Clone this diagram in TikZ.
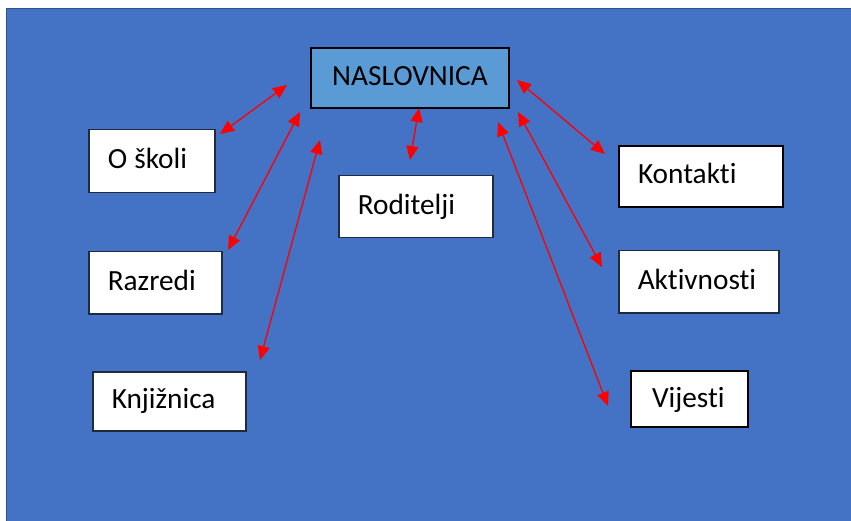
\documentclass[tikz,border=0pt]{standalone}
\usepackage{fontspec}
\setmainfont[Ligatures=NoCommon]{Carlito}
\usetikzlibrary{arrows.meta}
\definecolor{bgblue}{HTML}{4472C4}
\definecolor{bgborder}{HTML}{2F528F}
\definecolor{mainfill}{HTML}{5B9BD5}
\definecolor{boxline}{HTML}{1F2A3A}
\tikzset{
  pagebox/.style={x=1pt,y=-1pt},
  itembox/.style={draw=boxline, line width=1.5pt, fill=white, anchor=north west,
    inner xsep=19pt, inner ysep=0pt, align=left, text height=18pt, text depth=3pt,
    font=\fontsize{29.3}{34}\selectfont},
  strongbox/.style={itembox, draw=black, line width=2pt},
  linkarrow/.style={draw=red, line width=1.3pt, {Triangle[length=14pt,width=12pt]}-{Triangle[length=14pt,width=12pt]}}
}
\begin{document}
\begin{tikzpicture}[pagebox]
\useasboundingbox (0,0) rectangle (851,521);
\fill[white] (0,0) rectangle (851,521);
\filldraw[fill=bgblue, draw=bgborder, line width=1.5pt] (6.5,8.5) rectangle (860,530);

\node[strongbox, fill=mainfill, align=center, inner xsep=0pt, minimum width=198pt, minimum height=60pt, text height=19pt, text depth=3pt] (nas) at (310,47) {NASLOVNICA};

\node[itembox, minimum width=126pt, minimum height=63pt, text width=88pt] (skola) at (88,129) {O\kern-2.5pt{} školi};
\node[itembox, minimum width=133pt, minimum height=62pt, text width=95pt] (razredi) at (88,251) {Razredi};
\node[itembox, minimum width=153pt, minimum height=59pt, text width=115pt] (knjiznica) at (92,371) {Knjižnica};
\node[itembox, minimum width=154pt, minimum height=62pt, text width=116pt] (roditelji) at (338,175) {Roditelji};
\node[strongbox, minimum width=164pt, minimum height=61pt, text width=126pt] (kontakti) at (618,145) {Kontakti};
\node[itembox, minimum width=160pt, minimum height=62pt, text width=122pt] (aktivnosti) at (618,250) {Aktivnosti};
\node[strongbox, minimum width=117pt, minimum height=56pt, inner xsep=21pt, text width=75pt, text height=20pt] (vijesti) at (630,370) {Vijesti};

\coordinate (a1c) at (220,134); \coordinate (a1n) at (287,85);
\coordinate (a2c) at (228,250); \coordinate (a2n) at (300,112);
\coordinate (a3c) at (260,360); \coordinate (a3n) at (320,140);
\coordinate (a4c) at (410,160); \coordinate (a4n) at (419,108);
\coordinate (a5c) at (605,154); \coordinate (a5n) at (517,80);
\coordinate (a6c) at (602,267); \coordinate (a6n) at (518,112);
\coordinate (a7c) at (608,406); \coordinate (a7n) at (498,122);

\draw[linkarrow] (a1c) -- (a1n);
\draw[linkarrow] (a2c) -- (a2n);
\draw[linkarrow] (a3c) -- (a3n);
\draw[linkarrow] (a4c) -- (a4n);
\draw[linkarrow] (a5c) -- (a5n);
\draw[linkarrow] (a6c) -- (a6n);
\draw[linkarrow] (a7c) -- (a7n);
\end{tikzpicture}
\end{document}
